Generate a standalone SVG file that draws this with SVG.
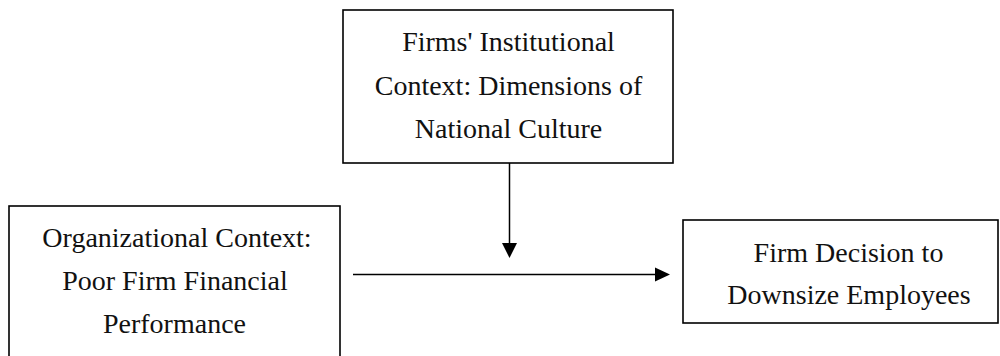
<svg xmlns="http://www.w3.org/2000/svg" width="1000" height="356" viewBox="0 0 1000 356">
  <style>
    .box { fill: #ffffff; stroke: #000000; stroke-width: 1.6; }
    .label { font-family: "Liberation Serif", "DejaVu Serif", serif; font-size: 28px; fill: #111111; text-anchor: middle; }
    .wire { stroke: #000000; stroke-width: 1.5; fill: none; }
  </style>
  <rect width="1000" height="356" fill="#ffffff"/>

  <g id="institutional-context">
    <rect class="box" x="343" y="10" width="330" height="153"/>
    <text class="label" x="508.5" y="51">Firms' Institutional</text>
    <text class="label" x="508.5" y="95">Context: Dimensions of</text>
    <text class="label" x="508.5" y="138">National Culture</text>
  </g>

  <g id="organizational-context">
    <rect class="box" x="9" y="206" width="331" height="160"/>
    <text class="label" x="177" y="247">Organizational Context:</text>
    <text class="label" x="175" y="290">Poor Firm Financial</text>
    <text class="label" x="174.5" y="333">Performance</text>
  </g>

  <g id="downsize-decision">
    <rect class="box" x="683" y="220" width="315" height="103"/>
    <text class="label" x="848.5" y="262">Firm Decision to</text>
    <text class="label" x="849" y="304">Downsize Employees</text>
  </g>

  <g id="connectors">
    <line class="wire" x1="509.5" y1="163" x2="509.5" y2="243"/>
    <path d="M502,243 L517,243 L509.5,258 Z" fill="#000000"/>
    <line class="wire" x1="353" y1="274.5" x2="656" y2="274.5"/>
    <path d="M655,267.5 L670,274.5 L655,281.5 Z" fill="#000000"/>
  </g>
</svg>
